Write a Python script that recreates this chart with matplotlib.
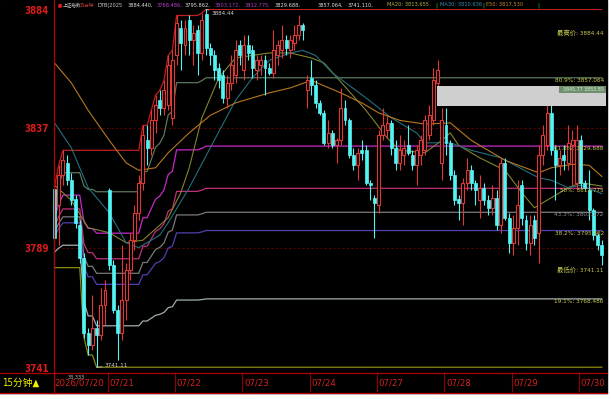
import numpy as np
import matplotlib
matplotlib.use("Agg")
import matplotlib.pyplot as plt
from matplotlib.lines import Line2D
from matplotlib.patches import Rectangle

# condensed DejaVu for latin text, CJK as fallback
plt.rcParams["font.family"] = ["DejaVu Sans", "Noto Sans CJK SC"]
plt.rcParams["font.stretch"] = "condensed"

# 15 minute bars, 2026/07/20 .. 07/30
opens = [3812.5, 3806, 3818, 3823, 3816, 3808.5, 3798, 3785, 3755, 3750, 3757, 3754, 3766,
         3812, 3782, 3764, 3755, 3768, 3780, 3792, 3803, 3815, 3832, 3829, 3840, 3848, 3845, 3846, 3841,
         3866, 3877, 3870, 3880, 3872, 3876, 3867, 3882.5, 3869, 3866, 3861, 3858, 3849, 3855, 3858, 3870,
         3860, 3870, 3868, 3860, 3862, 3864, 3861, 3859, 3866, 3868, 3872, 3868, 3871, 3874, 3878, 3852,
         3857, 3854, 3847, 3843, 3831, 3835, 3830, 3832, 3845, 3840, 3826, 3822, 3828, 3828, 3815, 3809,
         3806, 3834, 3836, 3839, 3829, 3823, 3826, 3830, 3826, 3822, 3826, 3828, 3834, 3840, 3855, 3823,
         3838, 3831, 3818, 3808.5, 3807, 3815, 3820, 3815, 3808, 3813, 3808, 3805, 3809, 3798, 3823, 3801,
         3791, 3797, 3814, 3800, 3791, 3800, 3795, 3826, 3830, 3843, 3828, 3822, 3826, 3823, 3830, 3815,
         3832, 3815, 3812, 3804, 3794, 3790]
highs = [3813.5, 3822, 3828, 3826, 3819, 3810, 3800, 3787, 3757, 3770, 3760, 3773, 3776,
         3813, 3784, 3766, 3790, 3783, 3795, 3806, 3818, 3838, 3838, 3844, 3850, 3852, 3856, 3866, 3868,
         3882, 3880, 3880, 3882, 3878, 3878, 3883, 3884.44, 3871, 3868, 3863, 3860, 3858, 3866, 3872, 3872,
         3874, 3874, 3870, 3866, 3866, 3866, 3863, 3876, 3872, 3878, 3874, 3874, 3878, 3882, 3879, 3858,
         3864, 3856, 3848, 3844, 3840, 3836, 3833, 3853, 3848, 3841, 3829, 3829, 3832, 3830, 3816, 3810,
         3836, 3845, 3842, 3840, 3832, 3834, 3832, 3838, 3828, 3830, 3834, 3842, 3846, 3861, 3864, 3845,
         3845, 3832, 3820, 3810, 3817, 3825, 3822, 3816, 3818, 3815, 3810, 3814, 3812, 3825, 3825, 3803,
         3802, 3816, 3816, 3802, 3802, 3802, 3830, 3838, 3850, 3846, 3830, 3828, 3830, 3838, 3836, 3838,
         3834, 3816, 3820, 3805, 3795, 3792]
lows = [3781, 3790, 3814, 3814, 3806, 3797, 3783, 3753, 3746, 3748, 3741.11, 3752, 3758,
        3780, 3763, 3744, 3752, 3760, 3776, 3788, 3800, 3812, 3822, 3826, 3835, 3842, 3842, 3844, 3838,
        3862, 3860, 3866, 3866, 3862, 3858, 3864, 3866, 3862, 3856, 3853, 3847, 3845, 3852, 3855, 3862,
        3856, 3864, 3857, 3856, 3858, 3850, 3858, 3857, 3862, 3865, 3866, 3865, 3868, 3872, 3872, 3845,
        3850, 3845, 3842, 3830, 3829, 3829, 3823, 3830, 3838, 3825, 3820, 3816, 3824, 3814, 3808, 3793,
        3803, 3832, 3833, 3826, 3820, 3820, 3822, 3826, 3820, 3814, 3822, 3826, 3832, 3838, 3853, 3816,
        3826, 3816, 3806, 3800, 3798, 3812, 3812, 3806, 3801, 3806, 3802, 3802, 3796, 3795, 3800, 3787,
        3786, 3790, 3798, 3788, 3786, 3790, 3783, 3822, 3828, 3826, 3808, 3818, 3820, 3820, 3814, 3812,
        3813, 3812, 3800, 3792, 3788, 3782]
closes = [3793, 3818, 3824, 3816, 3808, 3799, 3785, 3755, 3750, 3757, 3754, 3766, 3772,
          3782, 3764, 3755, 3768, 3780, 3792, 3803, 3815, 3834, 3829, 3840, 3846, 3845, 3852, 3862, 3864,
          3879, 3871, 3877, 3872, 3875, 3867, 3880, 3869, 3866, 3860, 3856, 3849, 3855, 3862, 3868, 3866,
          3870, 3867, 3861, 3864, 3864, 3861, 3859, 3868, 3870, 3872, 3869, 3872, 3874, 3878, 3876, 3856,
          3854, 3847, 3843, 3831, 3835, 3830, 3832, 3845, 3840, 3826, 3822, 3827, 3827, 3815, 3814, 3807,
          3834, 3838, 3839, 3829, 3823, 3828, 3829, 3827, 3822, 3828, 3832, 3840, 3842, 3856, 3860, 3840,
          3831, 3818, 3808, 3807, 3815, 3820, 3815, 3812, 3813, 3808, 3805, 3809, 3798, 3823, 3801, 3791,
          3797, 3806, 3801, 3791, 3798, 3793, 3826, 3834, 3843, 3828, 3822, 3825, 3824, 3831, 3832, 3832,
          3815, 3813, 3804, 3794, 3790, 3786]

day_labels = ["2026/07/20", "07/21", "07/22", "07/23", "07/24", "07/27", "07/28", "07/29", "07/30"]
day_first_bar = [0, 13, 29, 45, 61, 77, 93, 109, 125]

# moving averages at some bars
ma20_bar = [0, 4, 8, 13, 17, 21, 27, 30, 32, 35, 39, 43, 51, 56, 61, 64, 74, 79, 82, 88, 92, 94, 96,
            101, 107, 111, 114, 118, 122, 125, 130]
ma20_val = [3814, 3808, 3797, 3795, 3791, 3792, 3801, 3811, 3821, 3841, 3857, 3865, 3867, 3867, 3865,
            3863, 3844, 3833, 3828, 3827, 3832, 3835, 3830, 3825, 3820, 3811, 3805, 3809, 3813, 3815,
            3813.655]
ma30_bar = [0, 4, 8, 13, 17, 20, 25, 27, 32, 37, 43, 47, 51, 56, 59, 62, 66, 74, 80, 86, 88, 94, 99,
            106, 115, 118, 122, 125, 130]
ma30_val = [3839, 3829, 3813, 3803, 3791, 3789, 3794, 3799, 3813, 3829, 3848, 3857, 3864, 3867, 3868,
            3866, 3859, 3849, 3841, 3835, 3831, 3831, 3828, 3825, 3817, 3816, 3813, 3814, 3810.636]
e50_bar = [0, 4, 8, 13, 17, 20, 24, 27, 32, 37, 43, 51, 56, 61, 68, 73, 77, 82, 88, 94, 99, 103, 107,
           115, 118, 123, 127, 130]
e50_val = [3863, 3855, 3844, 3832, 3823, 3820, 3821, 3827, 3835, 3842, 3847, 3851, 3853, 3856, 3851,
           3847, 3843, 3840, 3838.5, 3839, 3832, 3828, 3824, 3819, 3821, 3822.4, 3822, 3817.53]

fib_levels = [1.0, 0.809, 0.618, 0.5, 0.433, 0.382, 0.191, 0.0]
fib_colors = ["#c02020", "#5c765c", "#c828c8", "#c0307a", "#7a7a7a", "#5040b0", "#a0adad", "#8a8a10"]

W, H = 611, 399
def fx(px):
    return px / W
def fy(py):
    return 1 - py / H

fig = plt.figure(figsize=(W / 100, H / 100), dpi=100, facecolor="white")
fig.patches.append(Rectangle((0, fy(393)), fx(607), 393 / H, transform=fig.transFigure,
                             color="black", zorder=-5))

ax = fig.add_axes([fx(53), fy(372), fx(606) - fx(53), (372 - 9) / H])
ax.set_facecolor("black")
for s in ax.spines.values():
    s.set_visible(False)
ax.set_xlim(-0.356, 131.0)
ax.set_ylim(3739.2, 3884.6)

o = np.array(opens); h = np.array(highs); l = np.array(lows); c = np.array(closes)
idx = np.arange(len(o))
up = c >= o
RED, CYAN = "#e03838", "#54f4f4"

# grid lines
for lv in [3837, 3789]:
    ax.axhline(lv, color="#5a0000", lw=0.8, ls=(0, (2, 2)), zorder=1)

# fibonacci levels from running high / low
run_hi = np.maximum.accumulate(h)
run_lo = np.minimum.accumulate(l)
for f, col in zip(fib_levels, fib_colors):
    ax.plot(idx, run_lo + f * (run_hi - run_lo), color=col, lw=0.9, zorder=2)

ax.plot(ma20_bar, ma20_val, color="#84842c", lw=0.8, zorder=2)
ax.plot(ma30_bar, ma30_val, color="#22707e", lw=0.8, zorder=2)
ax.plot(e50_bar, e50_val, color="#b87820", lw=0.8, zorder=2)

# candles
ax.vlines(idx, l, h, colors=np.where(up, RED, CYAN), lw=0.8, zorder=3)
body_lo = np.minimum(o, c)
body_h = np.maximum(np.abs(c - o), 0.4)
ax.bar(idx[up], body_h[up], bottom=body_lo[up], width=0.7, facecolor="black",
       edgecolor=RED, linewidth=0.8, zorder=4)
ax.bar(idx[~up], body_h[~up], bottom=body_lo[~up], width=0.7, facecolor=CYAN,
       edgecolor=CYAN, linewidth=0.5, zorder=4)

# high / low marks
hi, lo = run_hi[-1], run_lo[-1]
ih, il = int(np.argmax(h)), int(np.argmin(l))
ax.annotate(f"{hi:.2f}", xy=(ih, hi), xytext=(4, -3), textcoords="offset points",
            color="#d0d0d0", fontsize=4.5, va="center", ha="left",
            arrowprops=dict(arrowstyle="-", color="#c0c0c0", lw=0.6, shrinkA=0, shrinkB=0))
ax.annotate(f"{lo:.2f}", xy=(il, lo), xytext=(6, 1), textcoords="offset points",
            color="#d0d0d0", fontsize=4.5, va="center", ha="left",
            arrowprops=dict(arrowstyle="-", color="#c0c0c0", lw=0.6, shrinkA=0, shrinkB=0))

# right side labels
ytr = ax.get_yaxis_transform()
lab_col = "#c8c850"
ax.text(0.996, 0.934, f"最高价: {hi:.2f}", transform=ax.transAxes, ha="right", va="center",
        color=lab_col, fontsize=4.6, zorder=12)
ax.text(0.996, 0.281, f"最低价: {lo:.2f}", transform=ax.transAxes, ha="right", va="center",
        color=lab_col, fontsize=4.6, zorder=12)
for f in fib_levels[1:-1]:
    val = lo + f * (hi - lo)
    col = "#909090" if abs(f - 0.433) < 1e-6 else lab_col
    ax.text(0.996, val, f"{f * 100:g}%: {val:.3f}", transform=ytr, ha="right", va="top",
            color=col, fontsize=4.6, zorder=12)

# grey tooltip box
ax.add_patch(Rectangle((0.6944, 0.7328), 0.3056, 0.0551, transform=ax.transAxes,
                       facecolor="#cfcfcf", edgecolor="none", zorder=10, clip_on=False))
ax.add_patch(Rectangle((0.915, 0.7686), 0.085, 0.0193, transform=ax.transAxes,
                       facecolor="#6f8f6f", edgecolor="none", zorder=11, clip_on=False))
ax.text(0.997, 0.7782, "3845.77 3853.85", transform=ax.transAxes, ha="right", va="center",
        color="#c8f0c8", fontsize=3.8, zorder=12)

# axes ticks
ax.set_yticks([3884, 3837, 3789, 3741])
ax.tick_params(axis="y", length=0, pad=3, colors="#d81c1c", labelsize=7)
for t in ax.get_yticklabels():
    t.set_fontweight("bold")
ax.set_xticks(day_first_bar)
ax.set_xticklabels(day_labels)
ax.tick_params(axis="x", length=0, pad=5, colors="#d82020", labelsize=6.8)
for t in ax.get_xticklabels():
    t.set_ha("left")
ax.set_xticks(np.array(day_first_bar[1:]) - 0.4, minor=True)
ax.tick_params(axis="x", which="minor", length=14.5, width=0.8, color="#900000", direction="out")

# frame lines
for seg in [((53.5, 53.5), (0, 393)), ((0, 607), (372.5, 372.5)), ((0, 607), (392.5, 392.5))]:
    fig.add_artist(Line2D([fx(v) for v in seg[0]], [fy(v) for v in seg[1]], color="#b00000", lw=0.9))

fig.text(fx(2), fy(383), "15分钟▲", color="#f0f000", fontsize=7, va="center", ha="left")
fig.text(fx(68), fy(377.5), "33.333", color="#c0c0c0", fontsize=4, va="center", ha="left")

# header line
hdr_text = ["上证指数", "15分钟", "DTB(2025",
            f"{hi:.3f},", f"{lo + 0.191 * (hi - lo):.3f},", f"{lo + 0.382 * (hi - lo):.3f},",
            f"{lo + 0.433 * (hi - lo):.3f},", f"{lo + 0.5 * (hi - lo):.3f},",
            f"{lo + 0.618 * (hi - lo):.3f},", f"{lo + 0.809 * (hi - lo):.3f},", f"{lo:.3f},",
            f"MA20: {ma20_val[-1]:.3f}", f"MA30: {ma30_val[-1]:.3f}", f"E50: {e50_val[-1]:.3f}"]
hdr_col = ["#c8c8c8", "#d04040", "#c8c8c8", "#e0e0e0", "#c040d0", "#e0e0e0", "#a040c0",
           "#b040c0", "#e0e0e0", "#e0e0e0", "#e0e0e0", "#b0b040", "#3890a8", "#c08828"]
hdr_x = [63, 80, 98, 128, 157, 185, 215, 245, 275, 318, 348, 387, 440, 486]
hdr_size = [3.3, 3.3] + [4.1] * 12
fig.text(fx(58), fy(4.5), "■", color="#e02020", fontsize=3.5, va="center", ha="left")
for s, col, xp, sz in zip(hdr_text, hdr_col, hdr_x, hdr_size):
    fig.text(fx(xp), fy(5), s, color=col, fontsize=sz, va="center", ha="left")
for xp in [435, 482, 537]:
    fig.text(fx(xp), fy(5), "|", color="#30d030", fontsize=4.5, va="center", ha="left")

fig.savefig("out.png", dpi=100, facecolor="white")
